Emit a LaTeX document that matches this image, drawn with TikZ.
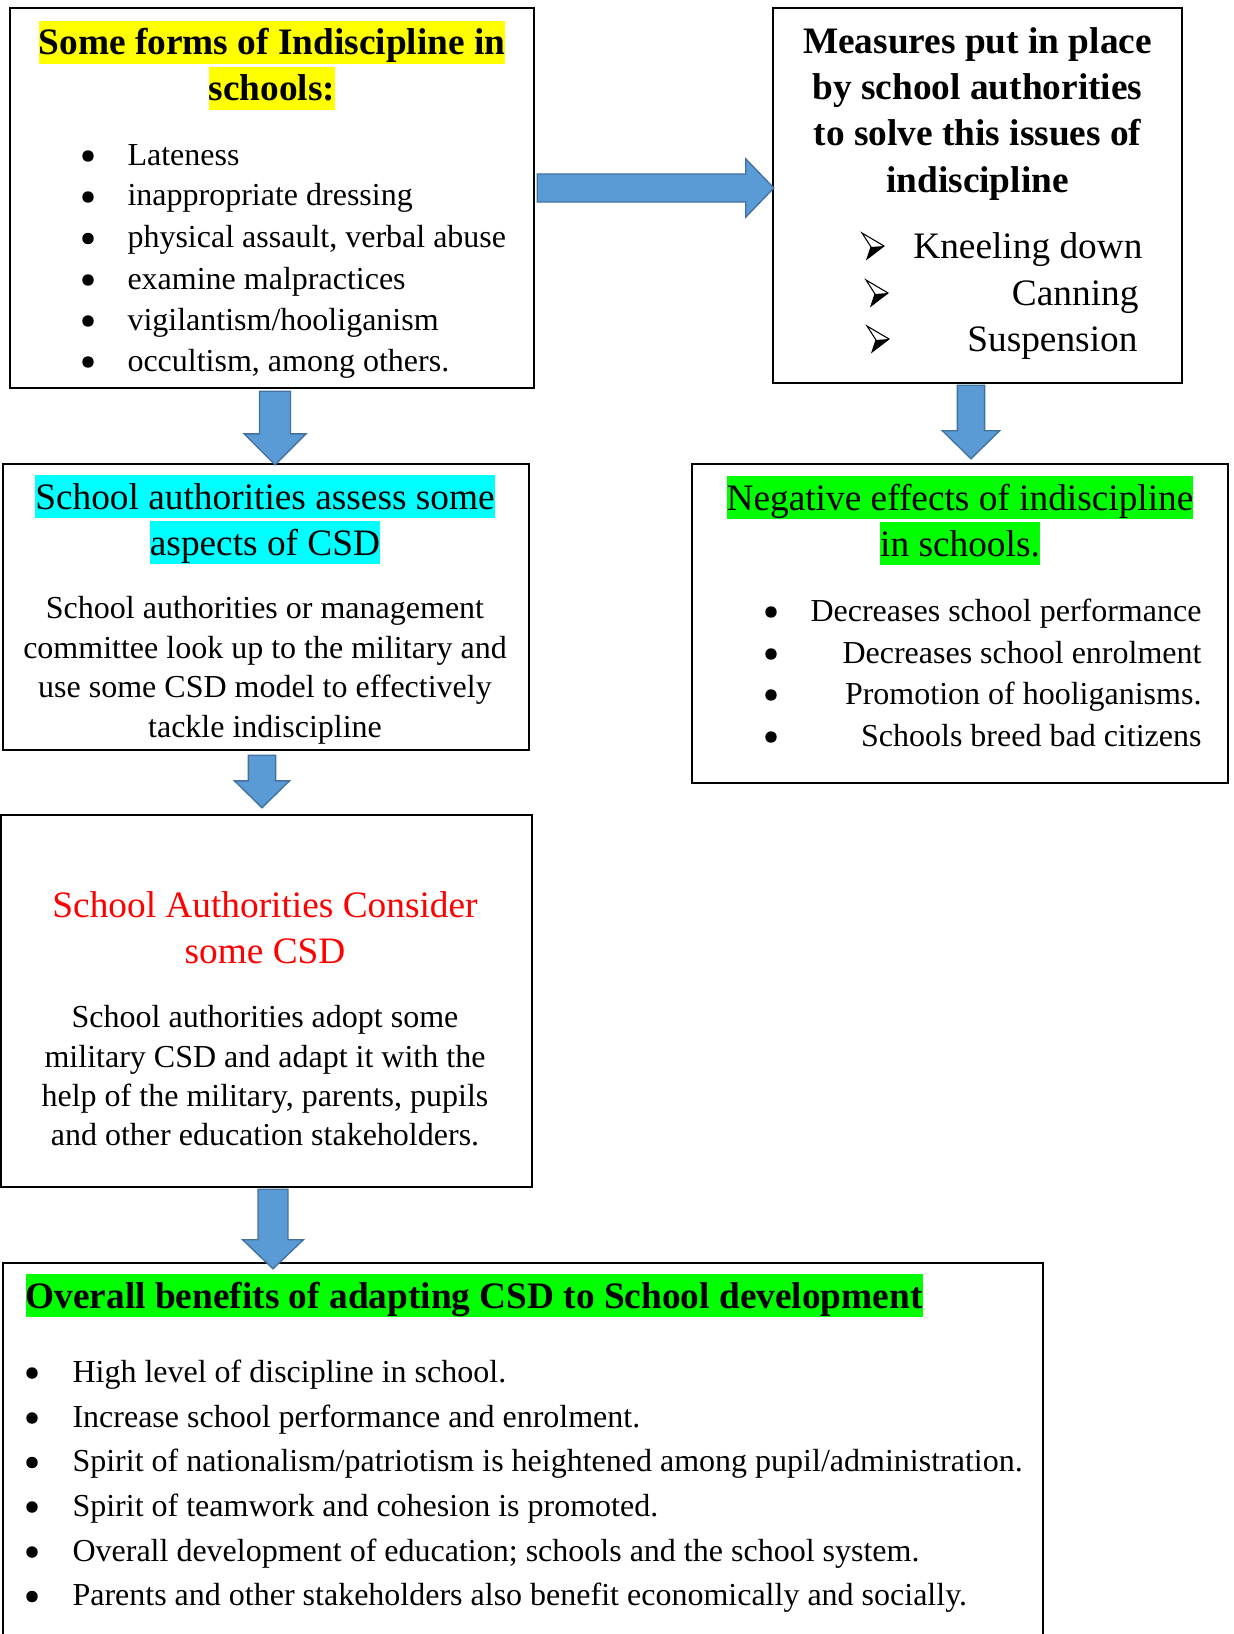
\documentclass[tikz,border=0pt]{standalone}
\usepackage{fontspec}
\setmainfont{Liberation Serif}
\usetikzlibrary{calc,fit}

\definecolor{arrowblue}{HTML}{5B9BD5}
\definecolor{arrowedge}{HTML}{41719C}
\definecolor{hlyellow}{HTML}{FFFF00}
\definecolor{hlcyan}{HTML}{00FFFF}
\definecolor{hlgreen}{HTML}{00FF00}
\definecolor{titlered}{HTML}{FF0000}

% block arrow pointing down: start, end, shaft half width, head half width, head length
\newcommand{\downblock}[5]{%
  \path[blockarrow] let \p1=#1, \p2=#2 in
    (\x1-#3,\y1) -- (\x1-#3,\y2+#5) -- (\x1-#4,\y2+#5) -- (\x1,\y2)
    -- (\x1+#4,\y2+#5) -- (\x1+#3,\y2+#5) -- (\x1+#3,\y1) -- cycle;}

% block arrow pointing right: start, end, shaft half width, head half width, head length
\newcommand{\rightblock}[5]{%
  \path[blockarrow] let \p1=#1, \p2=#2 in
    (\x1,\y1+#3) -- (\x2-#5,\y1+#3) -- (\x2-#5,\y1+#4) -- (\x2,\y1)
    -- (\x2-#5,\y1-#4) -- (\x2-#5,\y1-#3) -- (\x1,\y1-#3) -- cycle;}

\begin{document}
\begin{tikzpicture}[x=0.375pt, y=-0.375pt,
    box/.style={draw, line width=0.9pt, inner sep=0pt},
    blockarrow/.style={fill=arrowblue, draw=arrowedge, line width=0.5pt},
    titlebold/.style={font=\fontsize{14}{17}\selectfont\bfseries, inner sep=0pt, anchor=base},
    titleplain/.style={font=\fontsize{14}{17}\selectfont, inner sep=0pt, anchor=base},
    hl/.style={inner xsep=0pt, inner ysep=0pt, text height=12.6pt, text depth=3.4pt},
    bodytext/.style={font=\fontsize{12}{14}\selectfont, inner sep=0pt, anchor=base},
    bulletdot/.style={circle, fill, inner sep=0pt, minimum size=4.3pt},
    arrowmark/.pic={
      \fill[white] (0,0) -- (22,13) -- (9,14) -- cycle;
      \fill[black] (9,14) -- (22,13) -- (5,26) -- cycle;
      \draw[line width=0.4pt] (0,0) -- (22,13) -- (5,26) -- (9,14) -- cycle;
    }]

  \useasboundingbox (0,0) rectangle (1233,1634);
  \clip (0,0) rectangle (1233,1634);

  % Boxes
  \node[box, fit={(10,8) (534,388)}] (forms) {};
  \node[box, fit={(773,8) (1182,383)}] (measures) {};
  \node[box, fit={(3,464) (529,750)}] (assess) {};
  \node[box, fit={(692,464) (1228,783)}] (effects) {};
  \node[box, fit={(1,815) (532,1187)}] (consider) {};
  \node[box, fit={(3,1263) (1043,1700)}] (benefits) {};

  % Forms of indiscipline
  \node[titlebold, hl, fill=hlyellow] (formsA) at (272,55) {Some forms of Indiscipline in};
  \node[titlebold, hl, fill=hlyellow] (formsB) at (272,101) {schools:};
  \node[bulletdot] (fd1) at (88,156) {};
  \node[bulletdot] (fd2) at (88,197) {};
  \node[bulletdot] (fd3) at (88,238.5) {};
  \node[bulletdot] (fd4) at (88,280) {};
  \node[bulletdot] (fd5) at (88,321) {};
  \node[bulletdot] (fd6) at (88,362) {};
  \node[bodytext, anchor=base west] (f1) at (127,165) {Lateness};
  \node[bodytext, anchor=base west] (f2) at (127,206) {inappropriate dressing};
  \node[bodytext, anchor=base west] (f3) at (127,247.5) {physical assault, verbal abuse};
  \node[bodytext, anchor=base west] (f4) at (127,289) {examine malpractices};
  \node[bodytext, anchor=base west] (f5) at (127,330) {vigilantism/hooliganism};
  \node[bodytext, anchor=base west] (f6) at (127,371) {occultism, among others.};

  % Measures
  \node[titlebold] (measA) at (977.5,54) {Measures put in place};
  \node[titlebold] (measB) at (977.5,100) {by school authorities};
  \node[titlebold] (measC) at (977.5,146) {to solve this issues of};
  \node[titlebold] (measD) at (977.5,192) {indiscipline};
  \pic at (862,233) {arrowmark};
  \pic at (866,280) {arrowmark};
  \pic at (867,326) {arrowmark};
  \node[titleplain, anchor=base east] (m1) at (1143,258) {Kneeling down};
  \node[titleplain, anchor=base east] (m2) at (1139,305) {Canning};
  \node[titleplain, anchor=base east] (m3) at (1138,351) {Suspension};

  % Assessment of CSD
  \node[titleplain, hl, fill=hlcyan] (assA) at (265,509) {School authorities assess some};
  \node[titleplain, hl, fill=hlcyan] (assB) at (265,555) {aspects of CSD};
  \node[bodytext] (a1) at (265,618) {School authorities or management};
  \node[bodytext] (a2) at (265,658) {committee look up to the military and};
  \node[bodytext] (a3) at (265,697.5) {use some CSD model to effectively};
  \node[bodytext] (a4) at (265,737) {tackle indiscipline};

  % Negative effects
  \node[titleplain, hl, fill=hlgreen] (effA) at (960,510) {Negative effects of indiscipline};
  \node[titleplain, hl, fill=hlgreen] (effB) at (960,556) {in schools.};
  \node[bulletdot] (ed1) at (771,612) {};
  \node[bulletdot] (ed2) at (771,654) {};
  \node[bulletdot] (ed3) at (771,695) {};
  \node[bulletdot] (ed4) at (771,737) {};
  \node[bodytext, anchor=base east] (e1) at (1202,621) {Decreases school performance};
  \node[bodytext, anchor=base east] (e2) at (1202,663) {Decreases school enrolment};
  \node[bodytext, anchor=base east] (e3) at (1202,704) {Promotion of hooliganisms.};
  \node[bodytext, anchor=base east] (e4) at (1202,746) {Schools breed bad citizens};

  % Consideration of CSD
  \node[titleplain, titlered] (conA) at (265,917) {School Authorities Consider};
  \node[titleplain, titlered] (conB) at (265,963) {some CSD};
  \node[bodytext] (c1) at (265,1027) {School authorities adopt some};
  \node[bodytext] (c2) at (265,1067) {military CSD and adapt it with the};
  \node[bodytext] (c3) at (265,1106) {help of the military, parents, pupils};
  \node[bodytext] (c4) at (265,1145) {and other education stakeholders.};

  % Overall benefits
  \node[titlebold, hl, fill=hlgreen, anchor=base west] (benA) at (25,1308) {Overall benefits of adapting CSD to School development};
  \node[bulletdot] (bd1) at (32,1373) {};
  \node[bulletdot] (bd2) at (32,1418) {};
  \node[bulletdot] (bd3) at (32,1462.5) {};
  \node[bulletdot] (bd4) at (32,1507) {};
  \node[bulletdot] (bd5) at (32,1552) {};
  \node[bulletdot] (bd6) at (32,1596.5) {};
  \node[bodytext, anchor=base west] (b1) at (72,1382) {High level of discipline in school.};
  \node[bodytext, anchor=base west] (b2) at (72,1427) {Increase school performance and enrolment.};
  \node[bodytext, anchor=base west] (b3) at (72,1471.5) {Spirit of nationalism/patriotism is heightened among pupil/administration.};
  \node[bodytext, anchor=base west] (b4) at (72,1516) {Spirit of teamwork and cohesion is promoted.};
  \node[bodytext, anchor=base west] (b5) at (72,1561) {Overall development of education; schools and the school system.};
  \node[bodytext, anchor=base west] (b6) at (72,1605.5) {Parents and other stakeholders also benefit economically and socially.};

  % Block arrows
  \rightblock{($(forms.east)+(2,-10)$)}{($(measures.west)+(2,0)$)}{5.25pt}{10.9pt}{10.5pt}
  \downblock{($(forms.south)+(3,2)$)}{($(assess.north)+(0,2)$)}{5.8pt}{11.6pt}{11.6pt}
  \downblock{($(measures.south)+(-6.5,1)$)}{($(effects.north)+(0,-4)$)}{5.1pt}{10.7pt}{10.5pt}
  \downblock{($(assess.south)+(-4,4)$)}{($(consider.north)+(0,-6)$)}{5.1pt}{10.3pt}{10.1pt}
  \downblock{($(consider.south)+(6.5,1)$)}{($(benefits.north)+(0,7)$)}{5.6pt}{11.4pt}{10.9pt}
\end{tikzpicture}
\end{document}
